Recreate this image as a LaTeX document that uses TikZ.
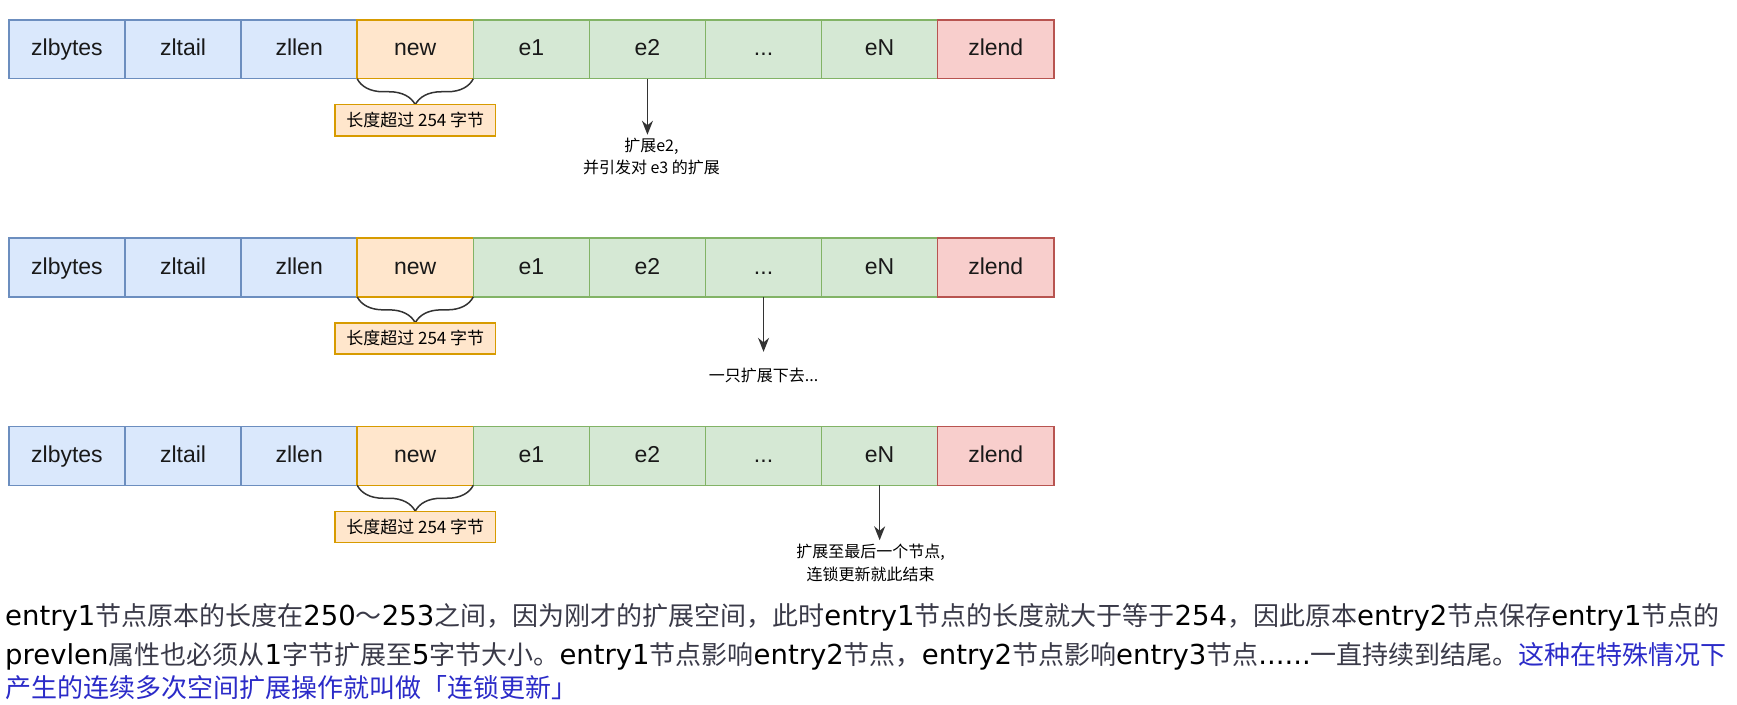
\documentclass[tikz,border=0pt]{standalone}
\usepackage{fontspec}
\setmainfont{Liberation Sans}
\newfontfamily\cjk{Noto Sans CJK SC}
\newfontfamily\lat{DejaVu Sans}
\usetikzlibrary{positioning,arrows.meta,decorations.pathreplacing}

\definecolor{blufill}{HTML}{DAE8FC}
\definecolor{bluline}{HTML}{6C8EBF}
\definecolor{grefill}{HTML}{D5E8D4}
\definecolor{greline}{HTML}{82B366}
\definecolor{orafill}{HTML}{FFE6CC}
\definecolor{oraline}{HTML}{D79B00}
\definecolor{redfill}{HTML}{F8CECC}
\definecolor{redline}{HTML}{B85450}
\definecolor{cjkgray}{HTML}{3A3A48}
\definecolor{linkblue}{HTML}{2B2BC8}

\tikzset{
  cell/.style={draw, line width=1.5bp, minimum width=116.1bp, minimum height=58.7bp,
    inner sep=0, outer sep=0, text height=17bp, text depth=4bp, text=black!90,
    font=\fontsize{23bp}{26bp}\selectfont},
  lenbox/.style={draw=oraline, fill=orafill, line width=1.5bp, minimum width=160.7bp,
    minimum height=31bp, inner sep=0, outer sep=0, font=\cjk\fontsize{17bp}{20bp}\selectfont},
  brace/.style={decorate, decoration={brace, mirror, amplitude=26bp}, line width=1.5bp, draw=black!80},
  pushline/.style={-{Stealth[length=14bp, width=11bp]}, line width=1.5bp, draw=black!80},
  note/.style={align=center, inner sep=0, font=\cjk\fontsize{16bp}{22.5bp}\selectfont},
  para/.style={anchor=base west, inner sep=0, text=cjkgray, font=\cjk\fontsize{26bp}{30bp}\selectfont}
}

\def\dotcell{...}
\newcommand{\enword}[1]{{\lat\color{black}\fontsize{27.5bp}{30bp}\selectfont #1}}
\newcommand{\ziplist}[2]{
  \foreach \lab/\fc/\dc [count=\i] in {zlbytes/blufill/bluline, zltail/blufill/bluline,
    zllen/blufill/bluline, new/orafill/oraline, e1/grefill/greline, e2/grefill/greline,
    \dotcell/grefill/greline, eN/grefill/greline, zlend/redfill/redline}
  \node[cell, fill=\fc, draw=\dc] (#1\i) at (8.9+116.1*\i-58.05, #2) {\lab};
}
\newcommand{\lenbrace}[1]{
  \draw[brace] (#14.south west) -- (#14.south east);
  \node[lenbox, below=26bp of #14] (#1len) {长度超过 254 字节};
}
\newcommand{\grow}[2]{
  \coordinate[below=#2 of #1] (#1tip);
  \draw[pushline] (#1) -- (#1tip);
}

\begin{document}
\begin{tikzpicture}[x=1bp, y=-1bp]
  \useasboundingbox (0,0) rectangle (1737,705);

  % Row 1
  % -----
  \ziplist{a}{49.4}
  \lenbrace{a}
  \grow{a6}{56bp}
  \node[note, below=3bp of a6tip, xshift=4bp] (a6note) {扩展e2,\\并引发对 e3 的扩展};

  % Row 2
  % -----
  \ziplist{b}{267.5}
  \lenbrace{b}
  \grow{b7}{55bp}
  \node[note, below=16bp of b7tip] (b7note) {一只扩展下去...};

  % Row 3
  % -----
  \ziplist{c}{455.9}
  \lenbrace{c}
  \grow{c8}{55bp}
  \node[note, below=4bp of c8tip, xshift=-9bp] (c8note) {扩展至最后一个节点,\\连锁更新就此结束};

  % Text
  % ====
  \node[para] (line1) at (5,625) {\enword{entry1}节点原本的长度在\enword{250}～\enword{253}之间，因为刚才的扩展空间，此时\enword{entry1}节点的长度就大于等于\enword{254}，因此原本\enword{entry2}节点保存\enword{entry1}节点的};
  \node[para] (line2) at (5,664) {\enword{prevlen}属性也必须从\enword{1}字节扩展至\enword{5}字节大小。\enword{entry1}节点影响\enword{entry2}节点，\enword{entry2}节点影响\enword{entry3}节点\enword{......}一直持续到结尾。{\color{linkblue}这种在特殊情况下}};
  \node[para, text=linkblue] (line3) at (5,697) {产生的连续多次空间扩展操作就叫做「连锁更新」};

\end{tikzpicture}
\end{document}
